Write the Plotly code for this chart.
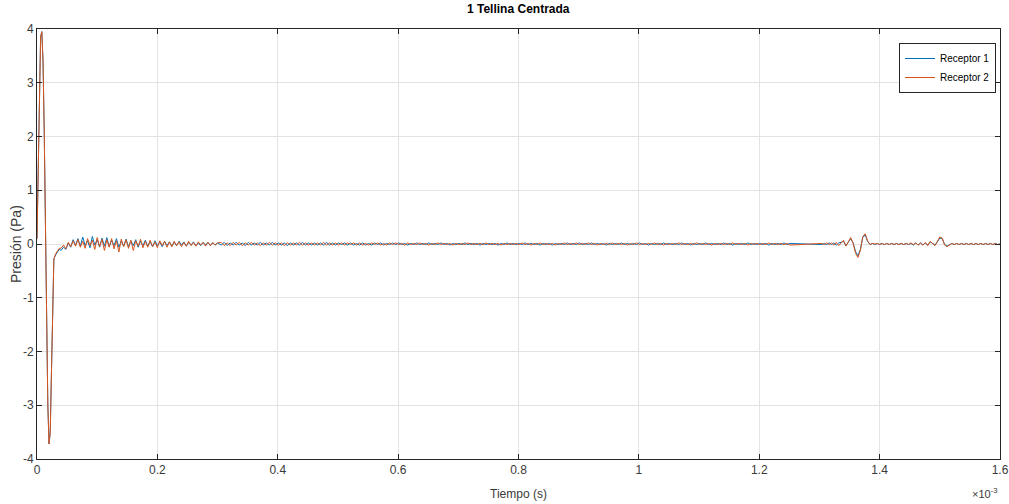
import plotly.graph_objects as go

TITLE = "1 Tellina Centrada"
X_LABEL = "Tiempo (s)"
Y_LABEL = "Presión (Pa)"
SERIES_NAMES = ["Receptor 1", "Receptor 2"]
X_TICKS = [0, 0.2, 0.4, 0.6, 0.8, 1.0, 1.2, 1.4, 1.6]
X_TICK_LABELS = ["0", "0.2", "0.4", "0.6", "0.8", "1", "1.2", "1.4", "1.6"]
Y_TICKS = [-4, -3, -2, -1, 0, 1, 2, 3, 4]
Y_TICK_LABELS = ["-4", "-3", "-2", "-1", "0", "1", "2", "3", "4"]
X_EXPONENT = "×10<sup>-3</sup>"

# time values in units of 10^-3 s (as read on the axis)
pulse_t = [0, 0.002, 0.004, 0.006, 0.008, 0.010, 0.012, 0.014, 0.016, 0.018,
           0.020, 0.022, 0.024, 0.026, 0.028, 0.031, 0.034, 0.037]
pulse_p1 = [0.1, 1.6, 3.1, 3.85, 3.95, 3.4, 2.1, 0.4, -1.5, -3.0,
            -3.72, -3.5, -2.4, -0.9, -0.28, -0.2, -0.14, -0.1]
pulse_p2 = [0.1, 1.6, 3.1, 3.85, 3.95, 3.4, 2.1, 0.4, -1.5, -3.0,
            -3.72, -3.5, -2.4, -0.9, -0.28, -0.18, -0.12, -0.08]

noise_start = 0.040
noise_step = 0.004
noise_p1 = [-0.12, -0.06, -0.10, 0.02, -0.06, 0.08, -0.02, 0.10, -0.04, 0.13,
            -0.03, 0.06, -0.07, 0.14, -0.02, 0.08, -0.06, 0.11, -0.04, 0.12,
            -0.05, 0.07, -0.03, 0.10, -0.06, 0.05, -0.04, 0.09, -0.05, 0.06,
            -0.03, 0.08, -0.06, 0.05, -0.03, 0.07, -0.04, 0.05, -0.05, 0.06,
            -0.03, 0.04, -0.05, 0.05, -0.03, 0.04, -0.04, 0.03, -0.03, 0.05,
            -0.02, 0.04, -0.04, 0.03, -0.02, 0.04, -0.03, 0.02, -0.03, 0.03,
            -0.02, 0.03, -0.03, 0.02, -0.02, 0.02]
noise_p2 = [-0.08, -0.02, -0.09, 0.03, -0.05, 0.06, -0.04, 0.08, -0.06, 0.05,
            -0.08, 0.10, -0.03, 0.07, -0.10, 0.12, -0.05, 0.09, -0.12, 0.08,
            -0.06, 0.10, -0.09, 0.06, -0.15, 0.09, -0.05, 0.08, -0.08, 0.07,
            -0.12, 0.06, -0.04, 0.09, -0.07, 0.05, -0.06, 0.07, -0.05, 0.04,
            -0.07, 0.06, -0.03, 0.05, -0.06, 0.04, -0.05, 0.05, -0.03, 0.04,
            -0.05, 0.03, -0.04, 0.05, -0.03, 0.03, -0.04, 0.04, -0.02, 0.03,
            -0.04, 0.03, -0.03, 0.03, -0.02, 0.02]

calm_start = 0.306
calm_step = 0.005
calm_p2 = [0.03, -0.03, 0.02, -0.03, 0.03, -0.02, 0.03, -0.03, 0.02, -0.02,
           0.03, -0.02, 0.02, -0.03, 0.02, -0.02, 0.03, -0.02, 0.02, -0.02,
           0.02, -0.03, 0.02, -0.02, 0.02, -0.02, 0.03, -0.02, 0.02, -0.02,
           0.02, -0.02, 0.02, -0.02, 0.03, -0.02, 0.02, -0.02, 0.02, -0.02,
           0.02, -0.02, 0.02, -0.01, 0.02, -0.02, 0.02, -0.02, 0.01, -0.02,
           0.02, -0.01, 0.02, -0.02, 0.01, -0.02, 0.02, -0.01, 0.02, -0.01,
           0.01, -0.02, 0.02, -0.01, 0.01, -0.01, 0.02, -0.01, 0.01, -0.02,
           0.01, -0.01, 0.02, -0.01, 0.01, -0.01, 0.01, -0.02, 0.01, -0.01,
           0.01, -0.01, 0.02, -0.01, 0.01, -0.01, 0.01, -0.01, 0.02, -0.01,
           0.01, -0.01, 0.01, -0.02, 0.01, -0.01, 0.01, -0.01, 0.01, -0.01,
           0.02, -0.01, 0.01, -0.02, 0.01, -0.01, 0.02, -0.01, 0.01, -0.01,
           0.01, -0.02, 0.01, -0.01, 0.02, -0.01, 0.01, -0.01, 0.02, -0.01,
           0.01, -0.01, 0.02, -0.01, 0.01, -0.02, 0.01, -0.01, 0.01, -0.01,
           0.02, -0.01, 0.01, -0.01, 0.01, -0.02, 0.01, -0.01, 0.02, -0.01,
           0.01, -0.01, 0.01, -0.01, 0.02, -0.01, 0.01, -0.02, 0.01, -0.01,
           0.01, -0.01, 0.02, -0.01, 0.01, -0.01, 0.01, -0.01, 0.02, -0.01,
           0.01, -0.01, 0.01, -0.02, 0.01, -0.01, 0.01, -0.01, 0.01, -0.01,
           0.02, -0.01, 0.01, -0.01, 0.01, -0.02, 0.01, -0.01, 0.01, -0.01,
           0.01, -0.01, 0.02, -0.01, 0.01, -0.01, 0.01, -0.01, 0.01, -0.02]
calm_p1 = [-0.02, 0.03, -0.03, 0.02, -0.02, 0.03, -0.02, 0.02, -0.03, 0.03,
           -0.02, 0.02, -0.02, 0.03, -0.02, 0.02, -0.02, 0.03, -0.02, 0.02,
           -0.02, 0.02, -0.03, 0.02, -0.02, 0.02, -0.02, 0.03, -0.02, 0.02,
           -0.02, 0.02, -0.02, 0.02, -0.02, 0.03, -0.02, 0.02, -0.02, 0.02,
           -0.01, 0.02, -0.02, 0.02, -0.02, 0.01, -0.02, 0.02, -0.02, 0.01,
           -0.02, 0.02, -0.01, 0.02, -0.02, 0.01, -0.01, 0.02, -0.01, 0.02,
           -0.01, 0.01, -0.02, 0.01, -0.01, 0.02, -0.01, 0.01, -0.01, 0.02,
           -0.01, 0.01, -0.01, 0.02, -0.01, 0.01, -0.02, 0.01, -0.01, 0.01,
           -0.01, 0.02, -0.01, 0.01, -0.01, 0.01, -0.02, 0.01, -0.01, 0.01,
           -0.01, 0.01, -0.02, 0.01, -0.01, 0.02, -0.01, 0.01, -0.01, 0.01,
           -0.01, 0.02, -0.01, 0.01, -0.01, 0.01, -0.02, 0.01, -0.01, 0.01,
           -0.02, 0.01, -0.01, 0.01, -0.01, 0.02, -0.01, 0.01, -0.01, 0.02,
           -0.01, 0.01, -0.01, 0.02, -0.01, 0.01, -0.01, 0.01, -0.02, 0.01,
           -0.01, 0.01, -0.01, 0.02, -0.01, 0.01, -0.01, 0.01, -0.01, 0.02,
           -0.01, 0.01, -0.02, 0.01, -0.01, 0.01, -0.01, 0.02, -0.01, 0.01,
           -0.01, 0.01, -0.01, 0.02, -0.01, 0.01, -0.02, 0.01, -0.01, 0.01,
           -0.01, 0.02, -0.01, 0.01, -0.01, 0.01, -0.01, 0.02, -0.01, 0.01,
           -0.02, 0.01, -0.01, 0.01, -0.01, 0.02, -0.01, 0.01, -0.01, 0.01,
           -0.01, 0.01, -0.02, 0.01, -0.01, 0.01, -0.01, 0.02, -0.01, 0.01]

tail_start = 1.304
tail_step = 0.004
tail_p2 = [0.01, -0.01, 0.02, -0.01, 0.02, -0.02, 0.03, -0.03, 0.02, 0.07,
           -0.04, 0.04, 0.12, 0.01, -0.17, -0.25, -0.12, 0.14, 0.19, 0.06,
           -0.01, 0.01, 0.00, 0.01, -0.01, 0.01, -0.01, 0.01, -0.01, 0.01,
           -0.01, 0.01, -0.01, 0.01, -0.01, 0.01, -0.01, 0.02, -0.01, 0.02,
           -0.02, 0.02, -0.02, 0.03, -0.03, 0.05, 0.00, -0.03, 0.05, 0.13,
           0.11, -0.02, -0.05, -0.02, 0.01, -0.01, 0.01, -0.01, 0.01, -0.01,
           0.01, -0.01, 0.01, -0.01, 0.01, -0.01, 0.01, -0.01, 0.01, -0.01,
           0.01, -0.01, 0.01, -0.01, 0.00]
tail_p1 = [-0.01, 0.01, -0.01, 0.02, -0.01, 0.02, -0.02, 0.02, 0.03, 0.05,
           -0.03, 0.03, 0.10, 0.02, -0.14, -0.22, -0.10, 0.12, 0.17, 0.05,
           -0.01, 0.01, -0.01, 0.01, -0.01, 0.01, -0.01, 0.01, -0.01, 0.01,
           -0.01, 0.01, -0.01, 0.01, -0.01, 0.01, -0.01, 0.01, -0.02, 0.02,
           -0.02, 0.02, -0.02, 0.02, -0.02, 0.04, 0.01, -0.02, 0.04, 0.11,
           0.10, -0.01, -0.04, -0.02, 0.01, -0.01, 0.01, -0.01, 0.01, -0.01,
           0.01, -0.01, 0.01, -0.01, 0.01, -0.01, 0.01, -0.01, 0.01, -0.01,
           0.01, -0.01, 0.01, -0.01, 0.00]

COLORS = ["#0072BD", "#D95319"]


def build(pulse, noise, calm, tail):
    t = list(pulse_t)
    p = list(pulse)
    for start, step, vals in ((noise_start, noise_step, noise),
                              (calm_start, calm_step, calm),
                              (tail_start, tail_step, tail)):
        t += [start + i * step for i in range(len(vals))]
        p += list(vals)
    return t, p


t1, p1 = build(pulse_p1, noise_p1, calm_p1, tail_p1)
t2, p2 = build(pulse_p2, noise_p2, calm_p2, tail_p2)

FONT = "Liberation Sans, Arial, sans-serif"
TXT = "#3a3a3a"

# layout geometry (pixels)
W, H = 1009, 504
L, R, T, B = 37, 9, 29, 45
PW, PH = W - L - R, H - T - B

fig = go.Figure()
fig.add_trace(go.Scatter(x=t1, y=p1, mode="lines", name=SERIES_NAMES[0],
                         line=dict(color=COLORS[0], width=1)))
fig.add_trace(go.Scatter(x=t2, y=p2, mode="lines", name=SERIES_NAMES[1],
                         line=dict(color=COLORS[1], width=1)))

axis_common = dict(
    showline=True, linecolor="#262626", linewidth=1, mirror="ticks",
    ticks="inside", ticklen=5, tickcolor="#262626",
    showgrid=True, gridcolor="#e3e3e3", gridwidth=1, zeroline=False,
    tickfont=dict(family=FONT, size=12, color=TXT),
    automargin=False,
)

fig.update_layout(
    width=W, height=H,
    paper_bgcolor="white", plot_bgcolor="white",
    margin=dict(l=L, r=R, t=T, b=B),
    xaxis=dict(range=[0, 1.6], tickvals=X_TICKS, ticktext=X_TICK_LABELS,
               **axis_common),
    yaxis=dict(range=[-4, 4], tickvals=Y_TICKS, ticktext=Y_TICK_LABELS,
               **axis_common),
    legend=dict(x=(996 - L) / PW, xanchor="right", y=(H - B - 43) / PH, yanchor="top",
                bgcolor="white", bordercolor="#262626", borderwidth=1,
                font=dict(family=FONT, size=10, color="black"),
                itemwidth=30, tracegroupgap=0),
    showlegend=True,
)

# title
fig.add_annotation(text="<b>" + TITLE + "</b>", xref="paper", yref="paper",
                   x=(518 - L) / PW, y=(H - B - 9) / PH,
                   xanchor="center", yanchor="middle", showarrow=False,
                   font=dict(family=FONT, size=12, color="black"))
# x-axis label
fig.add_annotation(text=X_LABEL, xref="paper", yref="paper",
                   x=(518 - L) / PW, y=-(494 - (H - B)) / PH,
                   xanchor="center", yanchor="middle", showarrow=False,
                   font=dict(family=FONT, size=12, color=TXT))
# y-axis label
fig.add_annotation(text=Y_LABEL, xref="paper", yref="paper",
                   x=-(L - 16) / PW, y=(H - B - 244) / PH, textangle=-90,
                   xanchor="center", yanchor="middle", showarrow=False,
                   font=dict(family=FONT, size=14, color=TXT))
# x exponent
fig.add_annotation(text=X_EXPONENT, xref="paper", yref="paper",
                   x=1.0, y=-(493 - (H - B)) / PH, xanchor="right", yanchor="middle",
                   showarrow=False,
                   font=dict(family=FONT, size=11, color=TXT))

fig.write_html("out.html", config={"displayModeBar": False},
               post_script="document.body.style.margin='0px';")
